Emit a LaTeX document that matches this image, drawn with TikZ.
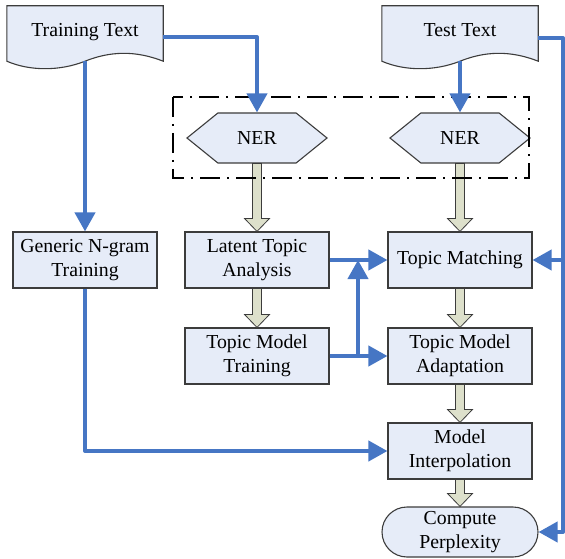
\documentclass[tikz,border=0pt]{standalone}
\usepackage{fontspec}
\setmainfont{Liberation Serif}
\usetikzlibrary{arrows.meta,calc,shapes.symbols,backgrounds}
\definecolor{flowblue}{RGB}{70,118,196}
\definecolor{boxfill}{RGB}{230,236,248}
\definecolor{fatfill}{RGB}{221,224,203}
\definecolor{boxline}{RGB}{60,60,60}

\tikzset{
	boxfont/.style={font=\fontsize{19.8}{24}\selectfont},
	procbox/.style={boxfont,draw=boxline,fill=boxfill,line width=1.1pt,minimum width=144pt,minimum height=56pt,align=center,inner sep=2pt},
	nerbox/.style={boxfont,signal,signal to=west and east,signal pointer angle=78,draw=boxline,fill=boxfill,line width=1.1pt,minimum width=140pt,minimum height=50pt,inner sep=0pt},
	docbox/.style={boxfont,minimum width=156pt,minimum height=55pt,inner sep=0pt,text depth=7.5pt},
	endbox/.style={boxfont,draw=boxline,fill=boxfill,line width=1.1pt,rounded corners=25pt,minimum width=156pt,minimum height=50pt,align=center,inner sep=0pt},
	flow/.style={flowblue,line width=4pt,line join=round,-{Triangle[length=19pt,width=20pt]}},
	fatarr/.style={draw=boxline,fill=fatfill,line width=0.8pt},
	dashdot/.style={line width=2.8pt,dash pattern=on 20pt off 7pt on 2pt off 7pt}
}

% wavy document outline
\newcommand{\docshape}[1]{%
	\draw[draw=boxline,fill=boxfill,line width=1.1pt] (#1.north west) -- (#1.north east) -- (#1.south east)
		.. controls +(-28,-11) and +(25,-10) .. (#1.south)
		.. controls +(-25,10) and +(23,10) .. (#1.south west) -- cycle;}
% hollow block arrow
\newcommand{\fatarrow}[2]{%
	\draw[fatarr] ($(#1.south)+(-4.5,0)$) -- ($(#2.north)+(-4.5,-13)$) -- ++(-8,0) -- (#2.north)
		-- ($(#2.north)+(12.5,-13)$) -- ++(-8,0) -- ($(#1.south)+(4.5,0)$) -- cycle;}

\begin{document}
\begin{tikzpicture}[x=1pt,y=-1pt]
	\useasboundingbox (0,0) rectangle (565,559);
	% inputs
	\node[docbox] (train) at (85,33.5) {Training Text};
	\node[docbox] (test) at (460,33.5) {Test Text};
	\begin{scope}[on background layer]
		\docshape{train}
		\docshape{test}
	\end{scope}
	% named entity recognition
	\node[nerbox] (ner1) at (257,138) {NER};
	\node[nerbox] (ner2) at (460,138) {NER};
	% processing steps
	\node[procbox] (ngram) at (85,260) {Generic N-gram\\Training};
	\node[procbox] (lta) at (257,260) {Latent Topic\\Analysis};
	\node[procbox] (tmt) at (257,356) {Topic Model\\Training};
	\node[procbox] (match) at (460,260) {Topic Matching};
	\node[procbox] (adapt) at (460,356) {Topic Model\\Adaptation};
	\node[procbox] (interp) at (460,451) {Model\\Interpolation};
	\node[endbox] (perp) at (460,532) {Compute\\Perplexity};
	% block arrows
	\fatarrow{ner1}{lta}
	\fatarrow{lta}{tmt}
	\fatarrow{ner2}{match}
	\fatarrow{match}{adapt}
	\fatarrow{adapt}{interp}
	\fatarrow{interp}{perp}
	\draw[dashdot] (173,97) rectangle (529,178);
	% data flow
	\draw[flow] ([yshift=-3.5pt]train.east) -| (ner1.north);
	\draw[flow] (test.south) -- (ner2.north);
	\draw[flow] (train.south) -- (ngram.north);
	\draw[flow] (ngram.south) |- (interp.west);
	\draw[flow] (lta.east) -- (match.west);
	\draw[flow] (tmt.east) -- (adapt.west);
	\coordinate (join) at (358,356);
	\draw[flow] (join) -- (join |- lta.east);
	\coordinate (rail) at (563,38);
	\draw[flow] ([yshift=-4.5pt]test.east) -- (rail) |- (perp.east);
	\draw[flow] (rail |- match.east) -- (match.east);
\end{tikzpicture}
\end{document}
